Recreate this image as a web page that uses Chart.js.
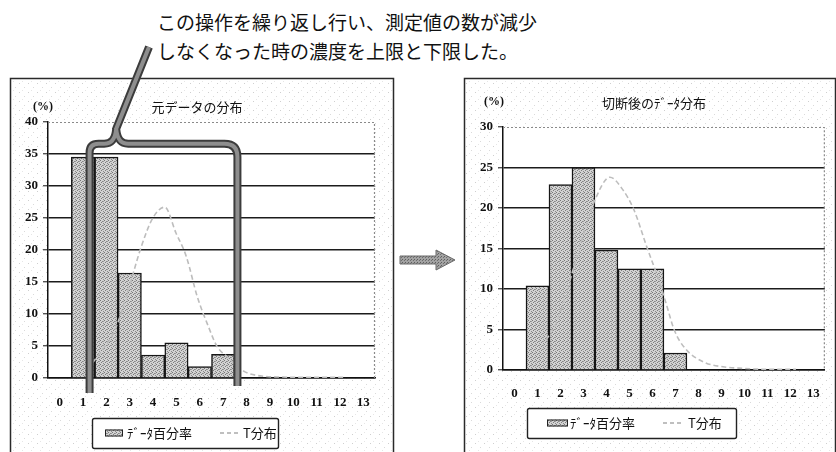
<!DOCTYPE html>
<html lang="ja">
<head>
<meta charset="utf-8">
<title>元データの分布 / 切断後のﾃﾞｰﾀ分布</title>
<script src="https://cdn.jsdelivr.net/npm/chart.js@4.4.1/dist/chart.umd.min.js"></script>
<style>
  html, body { margin: 0; padding: 0; background: #fff; }
  body { width: 836px; height: 452px; position: relative; overflow: hidden; }
  #note {
    position: absolute; left: 157px; top: 7px;
    font-family: "Noto Sans CJK JP", sans-serif; font-size: 19px; line-height: 29px;
    color: #111; white-space: nowrap;
  }
  #cLeft  { position: absolute; left: 0;     top: 0; }
  #cRight { position: absolute; left: 456px; top: 0; }
  #arrow  { position: absolute; left: 399px; top: 247px; }
</style>
</head>
<body>
<div id="note">この操作を繰り返し行い、測定値の数が減少<br>しなくなった時の濃度を上限と下限した。</div>
<svg id="arrow" width="60" height="26" viewBox="0 0 60 26">
  <defs>
    <pattern id="hatch" width="3" height="3" patternUnits="userSpaceOnUse">
      <rect width="3" height="3" fill="#a2a2a2"/>
      <rect x="0" y="0" width="1" height="1" fill="#5e5e5e"/>
      <rect x="2" y="1" width="1" height="1" fill="#6e6e6e"/>
    </pattern>
  </defs>
  <polygon points="1,9 37,9 37,3 56,13 37,23 37,17 1,17" fill="url(#hatch)" stroke="#6a6a6a" stroke-width="1"/>
</svg>
<canvas id="cLeft" width="400" height="452"></canvas>
<canvas id="cRight" width="380" height="452"></canvas>

<script>
// ---- categories and tick labels ----
const categories = ['0','1','2','3','4','5','6','7','8','9','10','11','12','13'];
const yTicksLeft  = [0, 5, 10, 15, 20, 25, 30, 35, 40];
const yTicksRight = [0, 5, 10, 15, 20, 25, 30];
const seriesNames = ['ﾃﾞｰﾀ百分率', 'T分布'];
const titleLeft  = '元データの分布';
const titleRight = '切断後のﾃﾞｰﾀ分布';
const unitLabel  = '(%)';

// ---- original data: share of measurements per class (%) ----
const rawShare = [null, 34.5, 34.5, 16.4, 3.6, 5.5, 1.8, 3.7, null, null, null, null, null, null];
// fitted T distribution for the original data (class position, %)
const rawTx = [0.57, 1.0, 1.6, 2.1, 2.5, 3.0, 3.57, 4.17, 4.72, 5.24, 5.79, 6.35, 6.78, 7.29, 8.15, 9.0, 10.0, 11.0, 12.0, 13.2];
const rawTy = [2.4, 4.2, 7.0, 11.2, 15.4, 20.6, 25.0, 26.7, 22.7, 19.0, 12.7, 8.0, 4.9, 3.3, 1.0, 0.3, 0.15, 0.1, 0.1, 0.1];

// ---- data after trimming ----
const cutShare = [null, 10.4, 22.9, 25.0, 14.8, 12.5, 12.5, 2.1, null, null, null, null, null, null];
const cutTx = [0.52, 1.07, 1.93, 2.48, 3.0, 3.76, 4.4, 4.99, 5.63, 6.18, 6.6, 7.03, 7.6, 8.6, 9.5, 10.5, 11.5, 13.2];
const cutTy = [3.7, 6.0, 12.7, 17.3, 21.0, 23.8, 22.3, 19.7, 15.2, 11.5, 8.3, 4.9, 2.6, 0.9, 0.4, 0.2, 0.1, 0.1];

// lower / upper limit bracket on the original chart (class units) and its top (%)
const limitRange = [1.28, 7.61];
const limitTop = 36.6;

// ---- fills ----
function tile(size, base, dots) {
  const c = document.createElement('canvas');
  c.width = c.height = size;
  const g = c.getContext('2d');
  g.fillStyle = base; g.fillRect(0, 0, size, size);
  dots.forEach(([x, y, col]) => { g.fillStyle = col; g.fillRect(x, y, 1, 1); });
  return c;
}
const barTile = tile(4, '#d2d2d2', [[0,0,'#767676'],[2,1,'#858585'],[1,2,'#7c7c7c'],[3,3,'#8a8a8a'],[3,1,'#9a9a9a']]);
const bgTile  = tile(9, '#ffffff', [[1,2,'#cfcfcf'],[6,6,'#dadada'],[4,0,'#e6e6e6']]);

Chart.defaults.animation = false;
Chart.defaults.font.family = '"Noto Sans CJK JP", sans-serif';

const tickFont = { family: '"Liberation Serif", serif', size: 13, weight: 'bold' };

function drawLegend(ctx, L, barFill, names) {
  ctx.save();
  ctx.fillStyle = '#fff';
  ctx.beginPath(); ctx.roundRect(L.x + 0.5, L.y + 0.5, L.w, L.h, 2); ctx.fill();
  ctx.strokeStyle = '#222'; ctx.lineWidth = 1.4; ctx.stroke();
  ctx.fillStyle = barFill;
  ctx.fillRect(L.sx, L.cy - 3.5, L.sw, 7);
  ctx.strokeStyle = '#222'; ctx.lineWidth = 1;
  ctx.strokeRect(L.sx + 0.5, L.cy - 3.5 + 0.5, L.sw - 1, 6);
  ctx.font = '13px "Noto Sans CJK JP"';
  ctx.fillStyle = '#111'; ctx.textBaseline = 'middle'; ctx.textAlign = 'left';
  ctx.fillText(names[0], L.t1, L.cy);
  ctx.strokeStyle = '#aaa'; ctx.lineWidth = 1.5; ctx.setLineDash([4, 3]);
  ctx.beginPath(); ctx.moveTo(L.d1, L.cy); ctx.lineTo(L.d2, L.cy); ctx.stroke();
  ctx.setLineDash([]);
  ctx.fillText(names[1], L.t2, L.cy);
  ctx.restore();
}

// frame, plot background, titles, legend
function decor(cfg, barFill, bgFill) {
  return {
    id: 'decor',
    beforeDraw(chart) {
      const { ctx, chartArea: a } = chart;
      ctx.save();
      ctx.fillStyle = bgFill;
      ctx.fillRect(cfg.fx, cfg.fy, cfg.fr - cfg.fx, 460 - cfg.fy);
      ctx.fillStyle = '#fff';
      ctx.fillRect(a.left, a.top, a.right - a.left, a.bottom - a.top);
      ctx.strokeStyle = '#2a2a2a'; ctx.lineWidth = 1.5;
      ctx.strokeRect(cfg.fx + 0.5, cfg.fy + 0.5, cfg.fr - cfg.fx, 470 - cfg.fy);
      ctx.restore();
    },
    afterDraw(chart) {
      const { ctx, chartArea: a } = chart;
      ctx.save();
      // dotted top / right edges of the plot area
      ctx.strokeStyle = '#8a8a8a'; ctx.lineWidth = 1.2; ctx.setLineDash([2, 2]);
      ctx.beginPath();
      ctx.moveTo(a.left, a.top + 0.5); ctx.lineTo(a.right - 0.5, a.top + 0.5); ctx.lineTo(a.right - 0.5, a.bottom);
      ctx.stroke();
      ctx.setLineDash([]);
      ctx.fillStyle = '#111'; ctx.textBaseline = 'middle'; ctx.textAlign = 'center';
      ctx.font = '13px "Noto Sans CJK JP"';
      ctx.fillText(cfg.title, cfg.tx, cfg.ty);
      ctx.font = 'bold 12px "Liberation Serif"';
      ctx.fillText(unitLabel, cfg.px, cfg.py);
      ctx.restore();
      drawLegend(ctx, cfg.legend, barFill, chart.data.datasets.map(d => d.label));
    }
  };
}

const bracket = {
  id: 'bracket',
  afterDraw(chart) {
    const { ctx, scales: { x, y } } = chart;
    const xl = x.getPixelForValue(limitRange[0]);
    const xr = x.getPixelForValue(limitRange[1]);
    const yt = y.getPixelForValue(limitTop);
    const yb = y.getPixelForValue(0);
    const jx = x.getPixelForValue(2.42), jy = yt - 15;
    const path = () => {
      ctx.beginPath();
      ctx.moveTo(xl, yb + 15);
      ctx.lineTo(xl, yt + 9);
      ctx.quadraticCurveTo(xl, yt, xl + 9, yt);
      ctx.lineTo(jx - 12, yt);
      ctx.bezierCurveTo(jx - 5, yt, jx - 1, yt - 4, jx, jy);
      ctx.moveTo(xr, yb + 8);
      ctx.lineTo(xr, yt + 13);
      ctx.quadraticCurveTo(xr, yt, xr - 13, yt);
      ctx.lineTo(jx + 12, yt);
      ctx.bezierCurveTo(jx + 5, yt, jx + 1, yt - 4, jx, jy);
      ctx.lineTo(149, 47);
    };
    ctx.save();
    ctx.lineJoin = 'round'; ctx.lineCap = 'butt';
    ctx.strokeStyle = '#3c3c3c'; ctx.lineWidth = 8; path(); ctx.stroke();
    ctx.strokeStyle = '#8e8e8e'; ctx.lineWidth = 4; path(); ctx.stroke();
    ctx.restore();
  }
};

function makeChart(id, share, tx, ty, yTicks, layout, cfg, extra) {
  const canvas = document.getElementById(id);
  const ctx = canvas.getContext('2d');
  const barFill = ctx.createPattern(barTile, 'repeat');
  const bgFill = ctx.createPattern(bgTile, 'repeat');
  const yMax = yTicks[yTicks.length - 1];
  return new Chart(canvas, {
    type: 'bar',
    data: {
      labels: categories,
      datasets: [
        {
          type: 'bar', label: seriesNames[0], data: share, order: 1,
          backgroundColor: barFill, borderColor: '#161616', borderWidth: 1.5,
          grouped: false, barPercentage: 1, categoryPercentage: 1,
          xAxisID: 'x', yAxisID: 'y'
        },
        {
          type: 'line', label: seriesNames[1], order: 0,
          data: tx.map((v, i) => ({ x: v, y: ty[i] })),
          xAxisID: 'xt', yAxisID: 'y',
          borderColor: '#bdbdbd', borderWidth: 1.6, borderDash: [5, 3],
          pointRadius: 0, tension: 0.4, cubicInterpolationMode: 'monotone', fill: false
        }
      ]
    },
    options: {
      responsive: false,
      animation: false,
      layout: { padding: layout.padding },
      plugins: { legend: { display: false }, title: { display: false }, tooltip: { enabled: false } },
      scales: {
        x: {
          type: 'category', offset: true,
          grid: { display: false, drawTicks: false },
          border: { display: true, color: '#111', width: 1.5 },
          ticks: { font: tickFont, color: '#111', padding: layout.xPad, maxRotation: 0, autoSkip: false },
          afterFit(s) { s.height = layout.xHeight; }
        },
        xt: { type: 'linear', min: -0.5, max: categories.length - 0.5, display: false },
        y: {
          min: 0, max: yMax,
          afterBuildTicks(s) { s.ticks = yTicks.map(v => ({ value: v })); },
          ticks: { font: tickFont, color: '#111', padding: 5 },
          grid: {
            color: c => (c.tick && c.tick.value === yMax) ? 'rgba(0,0,0,0)' : '#1c1c1c',
            lineWidth: 1.4, tickLength: 5, tickColor: '#555', drawTicks: true
          },
          border: { color: '#111', width: 1.5 },
          afterFit(s) { s.width = layout.yWidth; }
        }
      }
    },
    plugins: [decor(cfg, barFill, bgFill)].concat(extra)
  });
}

makeChart('cLeft', rawShare, rawTx, rawTy, yTicksLeft,
  { padding: { left: 10, right: 25, top: 122, bottom: 0 }, yWidth: 38, xHeight: 74, xPad: 17 },
  { fx: 10, fy: 78, fr: 393, title: titleLeft, tx: 197, ty: 107, px: 43, py: 107,
    legend: { x: 92, y: 418, w: 186, h: 30, cy: 433, sx: 105, sw: 18, t1: 127, d1: 220, d2: 240, t2: 243 } },
  [bracket]);

makeChart('cRight', cutShare, cutTx, cutTy, yTicksRight,
  { padding: { left: 8, right: 4, top: 127, bottom: 0 }, yWidth: 39, xHeight: 82, xPad: 16 },
  { fx: 8, fy: 78, fr: 379, title: titleRight, tx: 198, ty: 103, px: 38, py: 102,
    legend: { x: 71, y: 408, w: 209, h: 30, cy: 423, sx: 91, sw: 21, t1: 114, d1: 207, d2: 227, t2: 232 } },
  []);
</script>
</body>
</html>
